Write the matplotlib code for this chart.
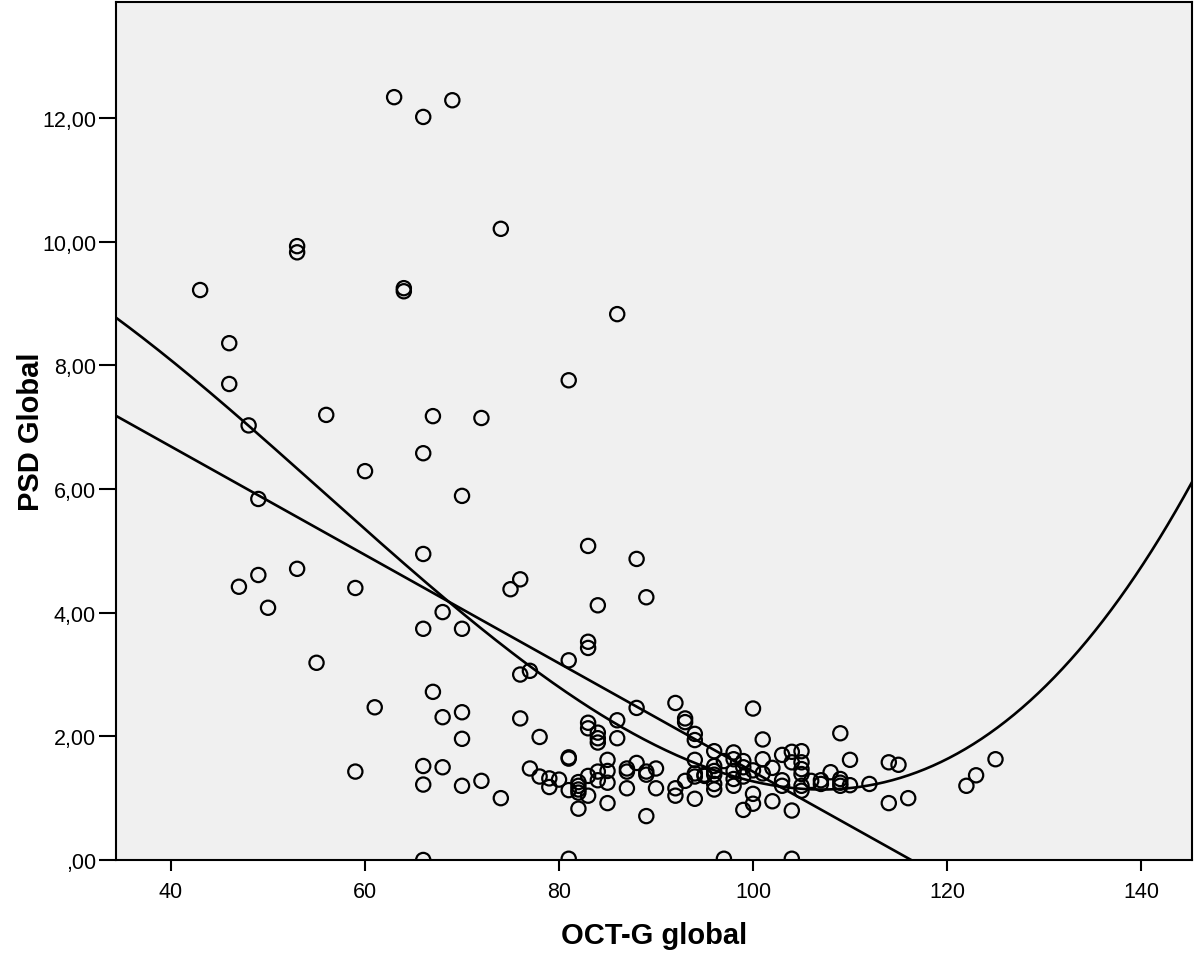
import numpy as np
import matplotlib
matplotlib.use("Agg")
import matplotlib.pyplot as plt
from matplotlib.ticker import FuncFormatter

# OCT-G global thickness (x) and PSD Global (y), one entry per eye
oct_g = [
    43, 46, 46, 47, 48, 49, 49, 50, 53, 53, 53, 55, 56, 59, 59, 60, 61, 63, 64, 64,
    66, 66, 66, 66, 66, 66, 66, 67, 67, 68, 68, 68, 69,
    70, 70, 70, 70, 70, 72, 72, 74, 74, 75, 76, 76, 76, 77, 77, 78, 78, 79, 79, 80,
    81, 81, 81, 81, 81, 81, 82, 82, 82, 82, 82,
    83, 83, 83, 83, 83, 83, 83, 84, 84, 84, 84, 84, 84, 85, 85, 85, 85,
    86, 86, 86, 87, 87, 87, 88, 88, 88, 89, 89, 89, 89, 90, 90,
    92, 92, 92, 93, 93, 93, 94, 94, 94, 94, 94, 94, 95, 95,
    96, 96, 96, 96, 96, 96, 97, 97, 98, 98, 98, 98, 98, 99, 99, 99, 99,
    100, 100, 100, 100, 101, 101, 101, 102, 102, 103, 103, 103, 104, 104, 104, 104,
    105, 105, 105, 105, 105, 105, 106, 107, 107, 108, 109, 109, 109, 109, 110, 110,
    112, 114, 114, 115, 116, 122, 123, 125,
]
psd_global = [
    9.22, 8.36, 7.70, 4.42, 7.03, 5.84, 4.61, 4.08, 9.93, 9.83, 4.71, 3.19, 7.20, 4.40, 1.43, 6.29, 2.47, 12.34, 9.25, 9.20,
    12.02, 6.58, 4.95, 3.74, 1.52, 1.22, 0.00, 7.18, 2.72, 4.01, 2.31, 1.50, 12.29,
    5.89, 3.74, 2.39, 1.96, 1.20, 7.15, 1.28, 10.21, 1.00, 4.38, 4.54, 3.00, 2.29, 3.06, 1.48, 1.99, 1.35, 1.32, 1.18, 1.30,
    7.76, 3.23, 1.66, 1.64, 1.13, 0.02, 1.26, 1.20, 1.14, 1.09, 0.83,
    5.08, 3.53, 3.43, 2.22, 2.13, 1.36, 1.04, 4.12, 2.06, 1.97, 1.90, 1.43, 1.29, 1.62, 1.44, 1.25, 0.92,
    8.83, 2.26, 1.97, 1.48, 1.43, 1.16, 4.87, 2.46, 1.57, 4.25, 1.43, 1.38, 0.71, 1.48, 1.16,
    2.54, 1.16, 1.04, 2.29, 2.23, 1.28, 2.04, 1.94, 1.62, 1.40, 1.35, 0.99, 1.38, 1.36,
    1.76, 1.52, 1.44, 1.38, 1.23, 1.14, 1.60, 0.02, 1.74, 1.63, 1.44, 1.31, 1.20, 1.60, 1.50, 1.35, 0.81,
    2.45, 1.45, 1.07, 0.91, 1.95, 1.63, 1.40, 1.49, 0.95, 1.70, 1.29, 1.20, 1.75, 1.58, 0.80, 0.02,
    1.76, 1.58, 1.47, 1.39, 1.20, 1.12, 1.28, 1.29, 1.23, 1.42, 2.05, 1.31, 1.25, 1.20, 1.62, 1.21,
    1.23, 1.58, 0.92, 1.54, 1.00, 1.20, 1.37, 1.63,
]

x_ticks = [40, 60, 80, 100, 120, 140]
y_ticks = [0, 2, 4, 6, 8, 10, 12]
x_label = "OCT-G global"
y_label = "PSD Global"

font = ["Liberation Sans", "DejaVu Sans"]
plt.rcParams["font.family"] = font

fig = plt.figure(figsize=(11.95, 9.54), dpi=100)
ax = fig.add_axes([0.0967, 0.0975, 0.9008, 0.8994])
ax.set_facecolor("#f0f0f0")

x = np.array(oct_g, dtype=float)
y = np.array(psd_global, dtype=float)

ax.scatter(x, y, s=105, facecolors="none", edgecolors="black", linewidths=1.6, zorder=3)

# linear and cubic least-squares fits across the full x range
xlim = (34.28, 145.26)
xs = np.linspace(xlim[0], xlim[1], 400)
lin = np.polyfit(x, y, 1)
cub = np.polyfit(x, y, 3)
ax.plot(xs, np.polyval(lin, xs), color="black", lw=1.9, zorder=4)
ax.plot(xs, np.polyval(cub, xs), color="black", lw=1.9, zorder=4)

ax.set_xlim(*xlim)
ax.set_ylim(0, 13.88)
ax.set_xticks(x_ticks)
ax.set_yticks(y_ticks)


def comma_fmt(v, pos):
    s = f"{v:.2f}".replace(".", ",")
    if s.startswith("0,"):
        s = s[1:]
    return s


ax.yaxis.set_major_formatter(FuncFormatter(comma_fmt))
ax.tick_params(axis="x", direction="out", length=8, width=1.5, pad=7, labelsize=15.5)
ax.tick_params(axis="y", direction="out", length=12, width=1.5, pad=2, labelsize=15.5)
for sp in ax.spines.values():
    sp.set_linewidth(1.5)
    sp.set_color("black")

ax.set_xlabel(x_label, fontsize=21, fontweight="bold", labelpad=14)
ax.set_ylabel(y_label, fontsize=21, fontweight="bold")
ax.yaxis.set_label_coords(-0.066, 0.5)

fig.savefig("out.png", dpi=100, facecolor="white")
